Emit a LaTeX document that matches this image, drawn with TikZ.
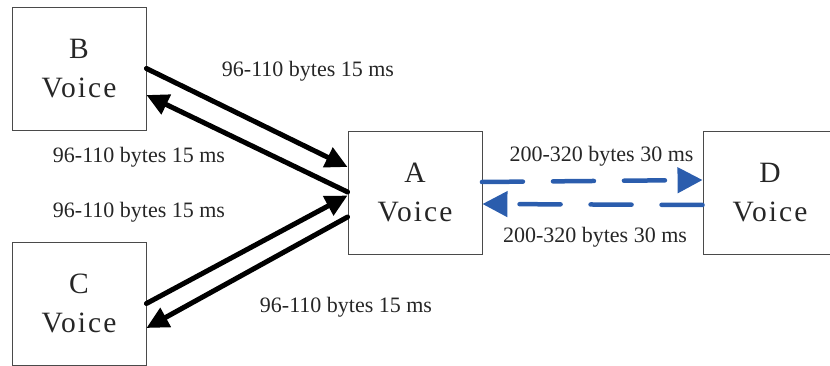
\documentclass[tikz,border=0pt]{standalone}
\usepackage{fontspec}
\setmainfont{Liberation Serif}
\usetikzlibrary{arrows.meta}
\definecolor{txt}{HTML}{262626}
\definecolor{boxline}{HTML}{4A4A4A}
\definecolor{flowblue}{HTML}{2B5DAD}
\tikzset{
  voicebox/.style={draw=boxline, line width=0.9pt, minimum width=134pt, minimum height=123pt,
    inner sep=0pt, align=center, text=txt, font=\fontsize{29.5}{39}\selectfont\addfontfeature{LetterSpace=7}},
  lbl/.style={anchor=base, text=txt, inner sep=0pt, font=\fontsize{22}{24}\selectfont},
  blackflow/.style={line width=5pt, line cap=round, -{Triangle[length=22pt,width=21pt]}},
  blueflow/.style={draw=flowblue, line width=4.5pt, line cap=round, dash pattern=on 41pt off 30pt,
    -{Triangle[length=25pt,width=25pt,fill=flowblue]}}
}
\begin{document}
\begin{tikzpicture}[x=1pt,y=-1pt]
\useasboundingbox (0,0) rectangle (830,366);
\clip (0,0) rectangle (830,366);
\node[voicebox] (B) at (79,68.5) {B\\Voice};
\node[voicebox] (C) at (79,303.5) {C\\Voice};
\node[voicebox] (A) at (415,192.5) {A\\Voice};
\node[voicebox] (D) at (770,192.5) {D\\Voice};

\draw[blackflow] (B.east) -- ([yshift=25.5pt]A.west);
\draw[blackflow] ([yshift=0.5pt]A.west) -- ([yshift=-26.5pt]B.east);
\draw[blackflow] (C.east) -- ([yshift=-3pt]A.west);
\draw[blackflow] ([yshift=-24.5pt]A.west) -- ([yshift=-24.5pt]C.east);

\draw[blueflow] ([xshift=-0.5pt,yshift=10.5pt]A.east) -- ([yshift=12.5pt]D.west);
\draw[blueflow] ([xshift=0pt,yshift=-12.5pt]D.west) -- ([yshift=-11.5pt]A.east);

\node[lbl] (l1) at (308,77) {96-110 bytes 15 ms};
\node[lbl] (l2) at (139,163) {96-110 bytes 15 ms};
\node[lbl] (l3) at (139,218) {96-110 bytes 15 ms};
\node[lbl] (l4) at (346,312) {96-110 bytes 15 ms};
\node[lbl] (l5) at (601.5,162) {200-320 bytes 30 ms};
\node[lbl] (l6) at (595,243) {200-320 bytes 30 ms};
\end{tikzpicture}
\end{document}
